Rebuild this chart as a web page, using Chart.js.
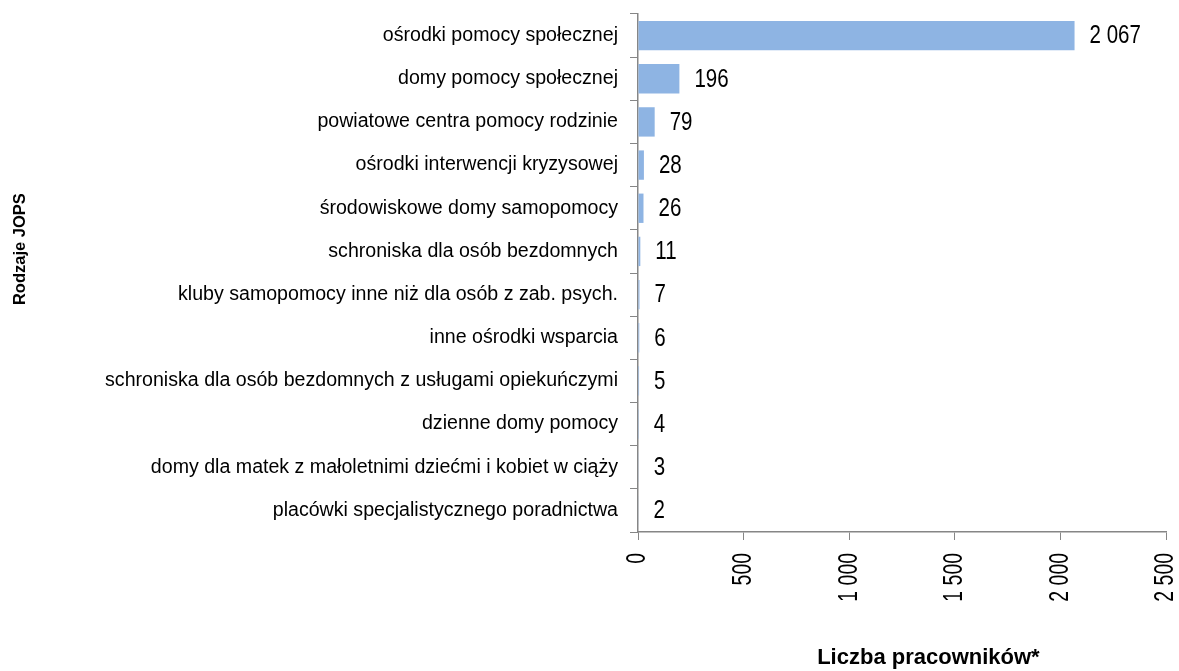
<!DOCTYPE html>
<html>
<head>
<meta charset="utf-8">
<script src="https://cdn.jsdelivr.net/npm/chart.js@4.4.1/dist/chart.umd.min.js"></script>
<style>
  html, body { margin: 0; padding: 0; background: #fff; }
  #wrap { width: 1179px; height: 671px; position: relative; }
</style>
</head>
<body>
<div id="wrap"><canvas id="jopsChart"></canvas></div>
<script>
const categories = [
    'ośrodki pomocy społecznej',
    'domy pomocy społecznej',
    'powiatowe centra pomocy rodzinie',
    'ośrodki interwencji kryzysowej',
    'środowiskowe domy samopomocy',
    'schroniska dla osób bezdomnych',
    'kluby samopomocy inne niż dla osób z zab. psych.',
    'inne ośrodki wsparcia',
    'schroniska dla osób bezdomnych z usługami opiekuńczymi',
    'dzienne domy pomocy',
    'domy dla matek z małoletnimi dziećmi i kobiet w ciąży',
    'placówki specjalistycznego poradnictwa'
];

const employees = [2067, 196, 79, 28, 26, 11, 7, 6, 5, 4, 3, 2];

const xTicks = [0, 500, 1000, 1500, 2000, 2500];

const yTitle = 'Rodzaje JOPS';
const xTitle = 'Liczba pracowników*';

const FONT = "'Liberation Sans', Arial, sans-serif";
const AXIS_COLOR = '#868686';

// 2067 -> "2 067"
function fmt(v) {
    return String(v).replace(/\B(?=(\d{3})+(?!\d))/g, ' ');
}

// value labels to the right of each bar (narrow look, like Arial Narrow)
const valueLabels = {
    id: 'valueLabels',
    afterDatasetsDraw(chart) {
        const ctx = chart.ctx;
        const meta = chart.getDatasetMeta(0);
        ctx.save();
        ctx.font = '25px ' + FONT;
        ctx.fillStyle = '#000';
        ctx.textAlign = 'left';
        ctx.textBaseline = 'middle';
        meta.data.forEach((bar, i) => {
            ctx.save();
            ctx.translate(bar.x + 15, bar.y + 1);
            ctx.scale(0.82, 1);
            ctx.fillText(fmt(employees[i]), 0, 0);
            ctx.restore();
        });
        ctx.restore();
    }
};

// x tick labels, rotated and condensed
const xTickLabels = {
    id: 'xTickLabels',
    afterDraw(chart) {
        const ctx = chart.ctx;
        const sx = chart.scales.x;
        ctx.save();
        ctx.font = '27px ' + FONT;
        ctx.fillStyle = '#000';
        ctx.textAlign = 'right';
        ctx.textBaseline = 'middle';
        xTicks.forEach(v => {
            ctx.save();
            ctx.translate(sx.getPixelForValue(v), sx.top + 21);
            ctx.rotate(-Math.PI / 2);
            ctx.scale(0.72, 1);
            ctx.fillText(fmt(v), 0, 0);
            ctx.restore();
        });
        ctx.restore();
    }
};

// axis titles, placed like in the original layout
const axisTitles = {
    id: 'axisTitles',
    afterDraw(chart) {
        const ctx = chart.ctx;
        const area = chart.chartArea;
        ctx.save();
        ctx.fillStyle = '#000';
        ctx.textAlign = 'center';
        ctx.textBaseline = 'middle';

        ctx.font = 'bold 16.5px ' + FONT;
        ctx.translate(20, area.top + (area.bottom - area.top) * 0.454);
        ctx.rotate(-Math.PI / 2);
        ctx.fillText(yTitle, 0, 0);
        ctx.setTransform(1, 0, 0, 1, 0, 0);

        ctx.font = 'bold 22px ' + FONT;
        ctx.fillText(xTitle, area.left + (area.right - area.left) * 0.55, 658);
        ctx.restore();
    }
};

const ctx = document.getElementById('jopsChart');

new Chart(ctx, {
    type: 'bar',
    data: {
        labels: categories,
        datasets: [
            {
                label: xTitle,
                data: employees,
                backgroundColor: '#8EB4E3',
                categoryPercentage: 1,
                barPercentage: 0.68
            }
        ]
    },
    options: {
        indexAxis: 'y',
        responsive: true,
        maintainAspectRatio: false,
        animation: false,
        layout: {
            padding: { top: 14, right: 13, bottom: 0, left: 0 }
        },
        plugins: {
            legend: { display: false },
            tooltip: { enabled: false }
        },
        scales: {
            y: {
                afterFit(scale) {
                    scale.width = 638;
                    scale.paddingTop = 0;
                    scale.paddingBottom = 0;
                },
                grid: {
                    drawOnChartArea: false,
                    offset: true,
                    tickLength: 8,
                    color: AXIS_COLOR
                },
                border: { color: AXIS_COLOR, width: 1.5 },
                ticks: {
                    color: '#000',
                    padding: 12,
                    font: { family: FONT, size: 19.6 }
                }
            },
            x: {
                min: 0,
                max: 2500,
                afterFit(scale) {
                    scale.height = 671 - 532;
                    scale.paddingLeft = 0;
                    scale.paddingRight = 0;
                },
                afterBuildTicks(scale) {
                    scale.ticks = xTicks.map(v => ({ value: v }));
                },
                grid: {
                    drawOnChartArea: false,
                    tickLength: 8,
                    color: AXIS_COLOR
                },
                border: { color: AXIS_COLOR, width: 1.5 },
                ticks: {
                    color: 'rgba(0,0,0,0)',
                    padding: 5,
                    minRotation: 90,
                    maxRotation: 90,
                    autoSkip: false,
                    font: { family: FONT, size: 20 },
                    callback: v => fmt(v)
                }
            }
        }
    },
    plugins: [valueLabels, xTickLabels, axisTitles]
});
</script>
</body>
</html>
